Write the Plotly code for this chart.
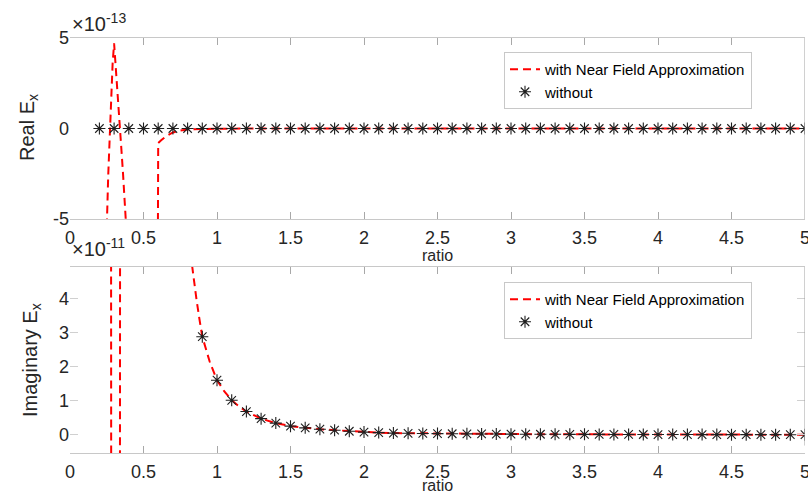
import plotly.graph_objects as go

# ---------------- data ----------------
# sample points of the "without" series (ratio)
ratio = [0.2, 0.3, 0.4, 0.5, 0.6, 0.7, 0.8, 0.9, 1.0, 1.1, 1.2, 1.3, 1.4, 1.5, 1.6,
         1.7, 1.8, 1.9, 2.0, 2.1, 2.2, 2.3, 2.4, 2.5, 2.6, 2.7, 2.8, 2.9, 3.0, 3.1,
         3.2, 3.3, 3.4, 3.5, 3.6, 3.7, 3.8, 3.9, 4.0, 4.1, 4.2, 4.3, 4.4, 4.5, 4.6,
         4.7, 4.8, 4.9, 5.0]

# Real E_x without approximation (units of 1e-13)
real_without = [0, 0, 0, 0, 0, 0, 0, 0, 0, 0, 0, 0, 0, 0, 0, 0, 0, 0, 0, 0, 0, 0, 0, 0, 0,
                0, 0, 0, 0, 0, 0, 0, 0, 0, 0, 0, 0, 0, 0, 0, 0, 0, 0, 0, 0, 0, 0, 0, 0]

# Imaginary E_x without approximation (units of 1e-11)
imag_without = [900, 250, 95, 42, 20, 11, 5.9, 2.89, 1.61, 1.02, 0.69, 0.48, 0.35, 0.26,
                0.21, 0.17, 0.14, 0.11, 0.085, 0.07, 0.055, 0.05, 0.045, 0.04, 0.036,
                0.033, 0.03, 0.027, 0.025, 0.023, 0.021, 0.02, 0.019, 0.018, 0.017,
                0.016, 0.015, 0.014, 0.013, 0.012, 0.012, 0.011, 0.011, 0.01, 0.01,
                0.009, 0.009, 0.008, 0.008]

# Real E_x with near field approximation (units of 1e-13)
ratio_nf_real = [0.20, 0.24, 0.25, 0.26, 0.27, 0.28, 0.29, 0.30, 0.31, 0.32, 0.33, 0.34,
                 0.35, 0.36, 0.37, 0.38, 0.39, 0.40, 0.50, 0.59, 0.60, 0.62, 0.65, 0.70,
                 0.75, 0.80, 0.90, 1.0, 1.5, 2.0, 2.5, 3.0, 3.5, 4.0, 4.5, 5.0]
real_nf = [-60, -12, -5.5, -2.6, -0.3, 1.8, 3.6, 4.7, 3.4, 2.5, 1.3, 0.1,
           -1.2, -2.4, -3.6, -4.8, -6.5, -20, -40, -25, -0.8, -0.65, -0.45, -0.22,
           -0.11, -0.05, -0.02, -0.01, 0, 0, 0, 0, 0, 0, 0, 0]

# Imaginary E_x with near field approximation (units of 1e-11)
ratio_nf_imag = [0.20, 0.27, 0.29, 0.33, 0.35, 0.40, 0.50, 0.60, 0.70, 0.80, 0.83, 0.86,
                 0.88, 0.90, 0.95, 1.0, 1.05, 1.1, 1.15, 1.2, 1.3, 1.4, 1.5, 1.6, 1.7,
                 1.8, 1.9, 2.0, 2.1, 2.2, 2.3, 2.4, 2.5, 2.6, 2.7, 2.8, 2.9, 3.0, 3.1,
                 3.2, 3.3, 3.4, 3.5, 3.6, 3.7, 3.8, 3.9, 4.0, 4.1, 4.2, 4.3, 4.4, 4.5,
                 4.6, 4.7, 4.8, 4.9, 5.0]
imag_nf = [60, 100, -100, -100, 100, 90, 40, 19, 10, 6.0, 4.94, 4.0,
           3.42, 2.89, 2.16, 1.61, 1.28, 1.02, 0.84, 0.69, 0.48, 0.35, 0.26, 0.21, 0.17,
           0.14, 0.11, 0.085, 0.07, 0.055, 0.05, 0.045, 0.04, 0.036, 0.033, 0.03, 0.027,
           0.025, 0.023, 0.021, 0.02, 0.019, 0.018, 0.017, 0.016, 0.015, 0.014, 0.013,
           0.012, 0.012, 0.011, 0.011, 0.01, 0.01, 0.009, 0.009, 0.008, 0.008]

x_tickvals = [0, 0.5, 1, 1.5, 2, 2.5, 3, 3.5, 4, 4.5, 5]
x_ticktext = ["0", "0.5", "1", "1.5", "2", "2.5", "3", "3.5", "4", "4.5", "5"]
real_tickvals = [-5, 0, 5]
real_ticktext = ["-5", "0", "5"]
imag_tickvals = [0, 1, 2, 3, 4]
imag_ticktext = ["0", "1", "2", "3", "4"]

series_nf_name = "with Near Field Approximation"
series_wo_name = "without"

# ---------------- styling ----------------
FONT = "Liberation Sans, Arial, Helvetica, sans-serif"
TXT = "#262626"
RED = "#ff0000"
LINEGRAY = "#c8c8c8"

W, H = 808, 492
L, R = 70, 3
PW = W - L - R


def py(px):
    return 1 - px / H


def pxx(px):
    return (px - L) / PW


line_style = dict(color=RED, width=2, dash="8px,5px")
marker_style = dict(symbol="asterisk-open", size=10, color="#1f1f1f",
                    line=dict(color="#1f1f1f", width=1.1))

fig = go.Figure()
fig.add_trace(go.Scatter(x=ratio_nf_real, y=real_nf, mode="lines", line=line_style,
                         name=series_nf_name, xaxis="x", yaxis="y", legend="legend"))
fig.add_trace(go.Scatter(x=ratio, y=real_without, mode="markers", marker=marker_style,
                         name=series_wo_name, xaxis="x", yaxis="y", legend="legend"))
fig.add_trace(go.Scatter(x=ratio_nf_imag, y=imag_nf, mode="lines", line=line_style,
                         name=series_nf_name, xaxis="x2", yaxis="y2", legend="legend2"))
fig.add_trace(go.Scatter(x=ratio, y=imag_without, mode="markers", marker=marker_style,
                         name=series_wo_name, xaxis="x2", yaxis="y2", legend="legend2"))

xcommon = dict(range=[0, 5], tickvals=x_tickvals, ticktext=x_ticktext, ticks="inside",
               ticklen=7, tickcolor="#a8a8a8", showline=True, linecolor=LINEGRAY,
               linewidth=1, mirror="allticks", showgrid=False, zeroline=False,
               automargin=False, ticklabeloverflow="allow",
               tickfont=dict(family=FONT, size=18, color=TXT), ticklabelstandoff=2)

legend_common = dict(xanchor="left", yanchor="top", bordercolor=LINEGRAY, borderwidth=1,
                     bgcolor="white", font=dict(family=FONT, size=15, color="#000000"),
                     tracegroupgap=0, itemwidth=30)

fig.update_layout(
    width=W, height=H,
    margin=dict(l=L, r=R, t=0, b=0, pad=0),
    paper_bgcolor="white", plot_bgcolor="white",
    font=dict(family=FONT, color=TXT),
    xaxis=dict(domain=[0, 1], anchor="y", **xcommon),
    yaxis=dict(domain=[py(219), py(38)], anchor="x", range=[-5, 5],
               tickvals=real_tickvals, ticktext=real_ticktext, ticks="",
               showline=False, showgrid=False, zeroline=False, automargin=False,
               tickfont=dict(family=FONT, size=18, color=TXT)),
    xaxis2=dict(domain=[0, 1], anchor="y2", **xcommon),
    yaxis2=dict(domain=[py(453), py(267)], anchor="x2", range=[-0.53, 4.94],
                tickvals=imag_tickvals, ticktext=imag_ticktext, ticks="inside",
                ticklen=8, tickcolor="#d0d0d0", mirror="ticks", automargin=False,
                showline=False, showgrid=False, zeroline=False,
                tickfont=dict(family=FONT, size=18, color=TXT)),
    legend=dict(x=pxx(504), y=py(52), **legend_common),
    legend2=dict(x=pxx(504), y=py(282), **legend_common),
    showlegend=True,
)

# right edge frame lines
fig.add_shape(type="line", xref="x", yref="y domain", x0=5, x1=5, y0=0, y1=1,
              line=dict(color="#a0a0a0", width=1))
fig.add_shape(type="line", xref="x2", yref="y2 domain", x0=5, x1=5, y0=0.04, y1=1,
              line=dict(color="#a0a0a0", width=1))

annots = [
    dict(text="×10<sup>-13</sup>", x=pxx(70), y=py(37), xref="paper",
         yref="paper", xanchor="left", yanchor="bottom", showarrow=False,
         font=dict(family=FONT, size=20, color=TXT)),
    dict(text="×10<sup>-11</sup>", x=pxx(70), y=py(262), xref="paper",
         yref="paper", xanchor="left", yanchor="bottom", showarrow=False,
         font=dict(family=FONT, size=20, color=TXT)),
    dict(text="Real E<sub>x</sub>", x=pxx(28), y=py(128), xref="paper",
         yref="paper", xanchor="center", yanchor="middle", textangle=-90,
         showarrow=False, font=dict(family=FONT, size=20, color=TXT)),
    dict(text="Imaginary E<sub>x</sub>", x=pxx(31), y=py(360),
         xref="paper", yref="paper", xanchor="center", yanchor="middle",
         textangle=-90, showarrow=False, font=dict(family=FONT, size=20, color=TXT)),
    dict(text="ratio", x=2.5, y=py(255), xref="x", yref="paper", xanchor="center",
         yanchor="middle", showarrow=False, font=dict(family=FONT, size=16, color=TXT)),
    dict(text="ratio", x=2.5, y=py(485), xref="x2", yref="paper", xanchor="center",
         yanchor="middle", showarrow=False, font=dict(family=FONT, size=16, color=TXT)),
]
fig.update_layout(annotations=annots)

fig.write_html("out.html")
